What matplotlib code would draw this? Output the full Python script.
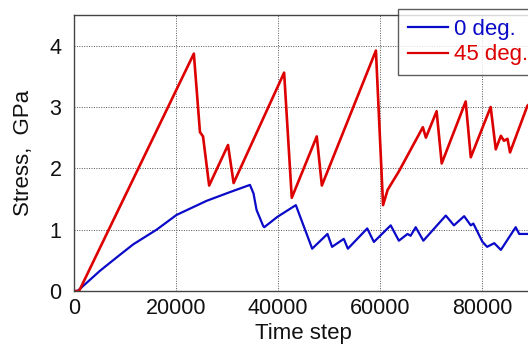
import matplotlib
matplotlib.use("Agg")
import matplotlib.pyplot as plt

plt.rcParams['font.family'] = ['Liberation Sans', 'DejaVu Sans']

# 0 deg. series (time step, stress GPa)
t0 = [0, 700, 5100, 8400, 11600, 16200, 20100, 26000, 30500, 34500, 35200,
      35800, 37100, 37300, 39900, 43500, 46700, 49700, 50600, 52900, 53700,
      57500, 58800, 62100, 63700, 65400, 66000, 67000, 68500, 72900, 74500,
      76500, 77800, 78300, 80100, 81000, 82400, 83700, 86600, 87300, 88900,
      90000]
s0 = [0.0, 0.0, 0.33, 0.55, 0.76, 1.0, 1.24, 1.47, 1.61, 1.73, 1.59,
      1.32, 1.06, 1.04, 1.21, 1.40, 0.69, 0.93, 0.72, 0.85, 0.69,
      1.02, 0.80, 1.07, 0.82, 0.93, 0.90, 1.04, 0.82, 1.23, 1.07,
      1.22, 1.07, 1.10, 0.80, 0.72, 0.78, 0.67, 1.04, 0.93, 0.93,
      0.94]

# 45 deg. series
t45 = [0, 1000, 23500, 24700, 25300, 26500, 30200, 31300, 41200, 42700,
       47600, 48600, 59200, 60600, 61500, 63700, 68400, 69000, 71100, 72100,
       76800, 77800, 81700, 82700, 83700, 84300, 85000, 85500, 88900, 90000]
s45 = [0.0, 0.0, 3.87, 2.59, 2.52, 1.72, 2.38, 1.76, 3.56, 1.52,
       2.52, 1.72, 3.92, 1.40, 1.65, 1.95, 2.67, 2.50, 2.93, 2.08,
       3.09, 2.18, 3.00, 2.31, 2.53, 2.45, 2.48, 2.26, 3.02, 3.10]

xticks = [0, 20000, 40000, 60000, 80000]
yticks = [0, 1, 2, 3, 4]

W, H = 528, 348
fig = plt.figure(figsize=(W / 100, H / 100), dpi=100)
ax = fig.add_axes([74 / W, (H - 291) / H, 459 / W, 276 / H])

ax.plot(t0, s0, color='#0a0ac8', lw=1.6, label='0 deg.')
ax.plot(t45, s45, color='#dd0000', lw=1.9, label='45 deg.')

ax.set_xlim(0, 90000)
ax.set_ylim(0, 4.5)
ax.set_xticks(xticks)
ax.set_yticks(yticks)
ax.set_xticklabels([str(v) for v in xticks])
ax.grid(True, color='#555555', linestyle=(0, (1, 1.5)), linewidth=0.7)
ax.tick_params(axis='both', labelsize=15.5, length=0, colors='#111111')
ax.tick_params(axis='x', pad=5)
ax.tick_params(axis='y', pad=9)
for sp in ax.spines.values():
    sp.set_color('#444444')
    sp.set_linewidth(1.0)

ax.set_xlabel('Time step', fontsize=16, labelpad=3, color='#111111')
ax.set_ylabel('Stress,  GPa', fontsize=16, labelpad=11, color='#111111')

leg = fig.legend(loc='upper left', bbox_to_anchor=(398 / W, 1 - 9 / H),
                 fontsize=16, handlelength=1.8, handletextpad=0.27,
                 borderpad=0.45, labelspacing=0.2, frameon=True,
                 fancybox=False, labelcolor='linecolor', borderaxespad=0)
leg.get_frame().set_edgecolor('#333333')
leg.get_frame().set_linewidth(1.0)
for line in leg.get_lines():
    line.set_linewidth(1.6)

fig.savefig('out.png', dpi=100)
